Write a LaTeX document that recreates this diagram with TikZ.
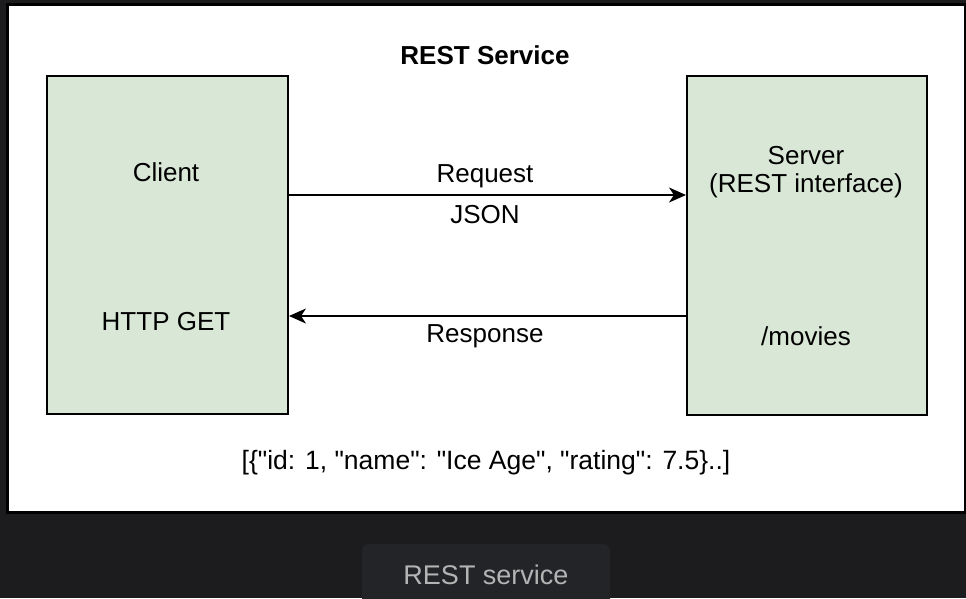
\documentclass[tikz,border=0pt]{standalone}
\usepackage{fontspec}
\setmainfont{Liberation Sans}[Ligatures=TeXOff]
\usetikzlibrary{arrows.meta}
\definecolor{darkbg}{HTML}{1C1C1E}
\definecolor{btnbg}{HTML}{232428}
\definecolor{btntext}{HTML}{B4B4B4}
\definecolor{boxgreen}{HTML}{D9E7D6}
\tikzset{
  box/.style={draw=black, line width=2pt, fill=boxgreen},
  lbl/.style={font=\fontsize{26}{31}\selectfont, text=black, inner sep=0pt, anchor=center},
  arr/.style={line width=2pt, -{Stealth[length=17pt,width=15pt,inset=5pt]}},
}
\begin{document}
\begin{tikzpicture}[x=1pt,y=-1pt]
\useasboundingbox (0,0) rectangle (966,598);
\fill[darkbg] (0,0) rectangle (966,598);
\node[draw=black, line width=2.5pt, fill=white, inner sep=0pt, minimum width=958pt, minimum height=508pt, anchor=north west] (panel) at (6,3) {};
\fill[btnbg, rounded corners=7pt] (362,544) rectangle (610,610);
\node[font=\fontsize{27}{32}\selectfont, text=btntext, inner sep=0pt] (caption) at (486,575) {REST service};
\node[box, minimum width=241pt, minimum height=338pt, inner sep=0pt, anchor=north west] (client) at (46,75) {};
\node[box, minimum width=240pt, minimum height=339pt, inner sep=0pt, anchor=north west] (server) at (686,75) {};
\node[lbl, font=\bfseries\fontsize{26}{31}\selectfont] (title) at (485,55) {REST Service};
\node[lbl] (clientlbl) at (166,172) {Client};
\node[lbl] (httpget) at (166,322) {HTTP GET};
\node[lbl] (serverlbl) at (806,156) {Server};
\node[lbl] (restif) at (806,186) {(REST interface)};
\node[lbl] (movies) at (806,336) {/movies};
\node[lbl] (request) at (485,176) {Request};
\node[lbl] (json) at (485,215) {JSON};
\node[lbl] (response) at (485,336) {Response};
\node[lbl, font=\fontsize{26.5}{31}\selectfont] (data) at (486,463) {[\{"id: 1, "name": "Ice Age", "rating": 7.5\}..]};
\draw[arr] (client.east |- 0,195) -- (server.west |- 0,195);
\draw[arr] (server.west |- 0,316) -- (client.east |- 0,316);
\end{tikzpicture}
\end{document}
